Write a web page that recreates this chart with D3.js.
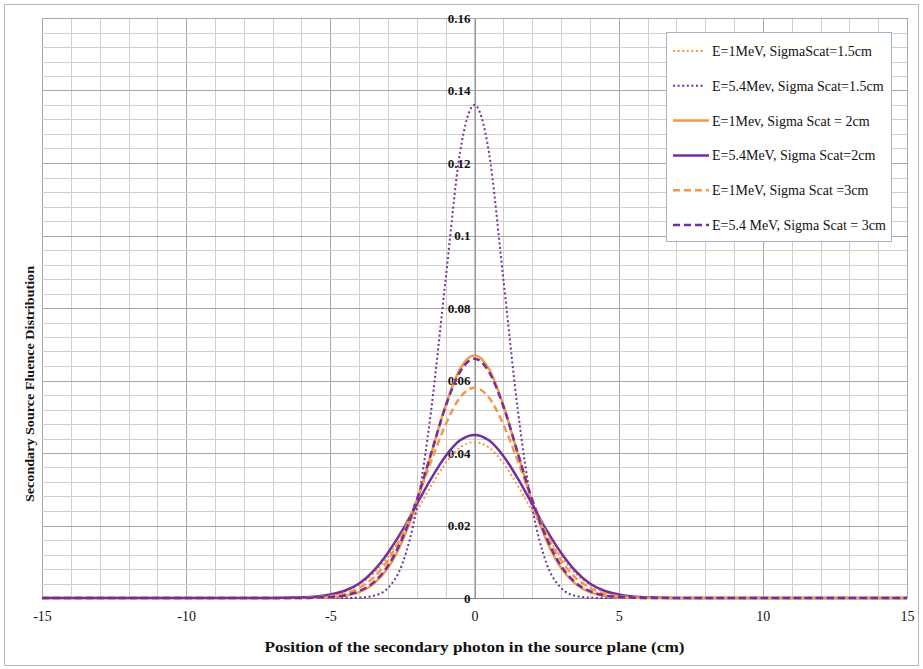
<!DOCTYPE html>
<html>
<head>
<meta charset="utf-8">
<script src="https://cdn.jsdelivr.net/npm/d3@7"></script>
<style>
  body { margin: 0; background: #fff; }
  text { font-family: "Liberation Serif", "DejaVu Serif", serif; fill: #111; }
</style>
</head>
<body>
<div id="chart"></div>
<script>
// positions along the source plane (cm)
const xs = [-15, -10, -8, -7, -6.5, -6, -5.5, -5, -4.5, -4, -3.5, -3, -2.5, -2, -1.5, -1, -0.5, 0,
  0.5, 1, 1.5, 2, 2.5, 3, 3.5, 4, 4.5, 5, 5.5, 6, 6.5, 7, 8, 10, 15];

const e1s15 = [0, 0, 0, 0, 0, 0.0001, 0.0003, 0.0008, 0.0018, 0.0037, 0.0068, 0.0114, 0.0172, 0.0240, 0.0310, 0.0372, 0.0415, 0.043,
  0.0415, 0.0372, 0.0310, 0.0240, 0.0172, 0.0114, 0.0068, 0.0037, 0.0018, 0.0008, 0.0003, 0.0001, 0, 0, 0, 0, 0];
const e54s15 = [0, 0, 0, 0, 0, 0, 0, 0, 0, 0.0001, 0.0006, 0.0028, 0.0095, 0.025, 0.052, 0.088, 0.123, 0.136,
  0.123, 0.088, 0.052, 0.025, 0.0095, 0.0028, 0.0006, 0.0001, 0, 0, 0, 0, 0, 0, 0, 0, 0];
const e1s2 = [0, 0, 0, 0, 0, 0, 0.0001, 0.0002, 0.0006, 0.0016, 0.0039, 0.0083, 0.0158, 0.0265, 0.0398, 0.0532, 0.0632, 0.067,
  0.0632, 0.0532, 0.0398, 0.0265, 0.0158, 0.0083, 0.0039, 0.0016, 0.0006, 0.0002, 0.0001, 0, 0, 0, 0, 0, 0];
const e54s2 = [0, 0, 0, 0, 0.0001, 0.0002, 0.0004, 0.0010, 0.0020, 0.0040, 0.0075, 0.0125, 0.0187, 0.0259, 0.0330, 0.0392, 0.0435, 0.045,
  0.0435, 0.0392, 0.0330, 0.0259, 0.0187, 0.0125, 0.0075, 0.0040, 0.0020, 0.0010, 0.0004, 0.0002, 0.0001, 0, 0, 0, 0];
const e1s3 = [0, 0, 0, 0, 0, 0.0001, 0.0002, 0.0005, 0.0012, 0.0028, 0.0056, 0.0104, 0.0176, 0.0271, 0.0378, 0.0479, 0.0553, 0.058,
  0.0553, 0.0479, 0.0378, 0.0271, 0.0176, 0.0104, 0.0056, 0.0028, 0.0012, 0.0005, 0.0002, 0.0001, 0, 0, 0, 0, 0];
const e54s3 = [0, 0, 0, 0, 0, 0, 0.0001, 0.0003, 0.0007, 0.0019, 0.0043, 0.0089, 0.0165, 0.0271, 0.0400, 0.0529, 0.0624, 0.066,
  0.0624, 0.0529, 0.0400, 0.0271, 0.0165, 0.0089, 0.0043, 0.0019, 0.0007, 0.0003, 0.0001, 0, 0, 0, 0, 0, 0];

const names = ['E=1MeV, SigmaScat=1.5cm', 'E=5.4Mev, Sigma Scat=1.5cm', 'E=1Mev, Sigma Scat = 2cm',
  'E=5.4MeV, Sigma Scat=2cm', 'E=1MeV, Sigma Scat =3cm', 'E=5.4 MeV, Sigma Scat = 3cm'];
const xTicks = [-15, -10, -5, 0, 5, 10, 15];
const yTicks = [0, 0.02, 0.04, 0.06, 0.08, 0.1, 0.12, 0.14, 0.16];

const orange = '#f79646';
const purple = '#7030a0';
const series = [
  { name: names[0], vals: e1s15, color: orange, dash: '2,2.6', width: 2 },
  { name: names[1], vals: e54s15, color: purple, dash: '2,2.6', width: 2 },
  { name: names[2], vals: e1s2, color: orange, dash: null, width: 2.5 },
  { name: names[3], vals: e54s2, color: purple, dash: null, width: 2.5 },
  { name: names[4], vals: e1s3, color: orange, dash: '7,4', width: 2.5 },
  { name: names[5], vals: e54s3, color: purple, dash: '7,4', width: 2.5 }
];

let w = 923;
let h = 669;
let padL = 42, padR = 907, padT = 18, padB = 598;

let svg = d3.select('#chart').
append('svg').
attr('width', w).
attr('height', h);

// outer frame
svg.append('rect').
attr('x', 4.5).
attr('y', 4.5).
attr('width', w - 9).
attr('height', h - 8).
attr('fill', '#fff').
attr('stroke', '#b8b8b8');

let xScale = d3.scaleLinear().domain([-15, 15]).range([padL, padR]);
let yScale = d3.scaleLinear().domain([0, 0.16]).range([padB, padT]);

// gridlines: minor and major
let grid = svg.append('g');
grid.selectAll('.vx').
data(d3.range(-15, 16)).
enter().
append('line').
attr('x1', d => Math.round(xScale(d)) + 0.5).
attr('x2', d => Math.round(xScale(d)) + 0.5).
attr('y1', padT).
attr('y2', padB).
attr('stroke', d => d % 5 === 0 ? '#a8a8a8' : '#cfcfcf').
attr('stroke-width', 1);

grid.selectAll('.hy').
data(d3.range(0, 41)).
enter().
append('line').
attr('y1', d => Math.round(yScale(d * 0.004)) + 0.5).
attr('y2', d => Math.round(yScale(d * 0.004)) + 0.5).
attr('x1', padL).
attr('x2', padR).
attr('stroke', d => d % 5 === 0 ? '#a8a8a8' : '#cfcfcf').
attr('stroke-width', 1);

// axes
let xAxis = d3.axisBottom(xScale).tickValues(xTicks).tickSize(0).tickPadding(13).tickFormat(d => String(d));
svg.append('g').
attr('transform', 'translate(0,' + padB + ')').
call(xAxis).
call(g => g.select('.domain').attr('stroke', '#888')).
selectAll('text').
attr('font-size', 14).
attr('font-family', '"Liberation Serif", serif');

let yAxis = d3.axisLeft(yScale).tickValues(yTicks).tickSize(0).tickPadding(4).tickFormat(d => d === 0 ? '0' : String(+d.toFixed(2)));
svg.append('g').
attr('transform', 'translate(' + xScale(0) + ',0)').
call(yAxis).
call(g => g.select('.domain').attr('stroke', '#888')).
selectAll('text').
attr('font-size', 13).
attr('font-weight', 'bold').
attr('font-family', '"Liberation Serif", serif');

// curves
let line = d3.line().
x((d, i) => xScale(xs[i])).
y(d => yScale(d)).
curve(d3.curveMonotoneX);

svg.append('g').
selectAll('path').
data(series).
enter().
append('path').
attr('d', d => line(d.vals)).
attr('fill', 'none').
attr('stroke', d => d.color).
attr('stroke-width', d => d.width).
attr('stroke-dasharray', d => d.dash).
attr('stroke-linejoin', 'round');

// axis titles
svg.append('text').
text('Position  of the secondary photon in the source plane (cm)').
attr('x', xScale(0)).
attr('y', 652).
attr('text-anchor', 'middle').
attr('font-size', 14).
attr('font-weight', 'bold').
attr('textLength', 420).
attr('lengthAdjust', 'spacingAndGlyphs');

svg.append('text').
text('Secondary Source Fluence Distribution').
attr('transform', 'translate(34,384) rotate(-90)').
attr('text-anchor', 'middle').
attr('font-size', 13).
attr('font-weight', 'bold').
attr('textLength', 236).
attr('lengthAdjust', 'spacingAndGlyphs');

// legend
let legend = svg.append('g');
legend.append('rect').
attr('x', 666.5).
attr('y', 32.5).
attr('width', 225).
attr('height', 209).
attr('fill', '#fff').
attr('stroke', '#9fb3c8');

let item = legend.selectAll('.item').
data(series).
enter().
append('g').
attr('transform', (d, i) => 'translate(673,' + (51 + i * 34.8) + ')');

item.append('line').
attr('x1', 0).
attr('x2', d => d.dash === '2,2.6' ? 32 : 36).
attr('y1', 0).
attr('y2', 0).
attr('stroke', d => d.color).
attr('stroke-width', d => d.width).
attr('stroke-dasharray', d => d.dash);

item.append('text').
text(d => d.name).
attr('x', 39).
attr('y', 5).
attr('font-size', 14);
</script>
</body>
</html>
